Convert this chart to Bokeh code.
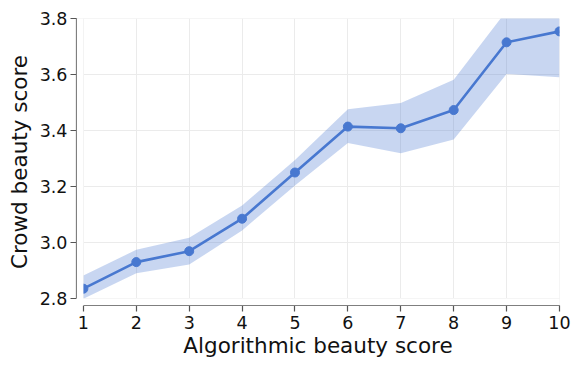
from bokeh.plotting import figure
from bokeh.models import Range1d, FixedTicker, BoxAnnotation, ColumnDataSource, PrintfTickFormatter
from bokeh.embed import file_html
from bokeh.resources import INLINE

x = [1, 2, 3, 4, 5, 6, 7, 8, 9, 10]
mean = [2.835, 2.930, 2.969, 3.085, 3.250, 3.414, 3.408, 3.473, 3.715, 3.754]
lower = [2.799, 2.890, 2.921, 3.043, 3.204, 3.355, 3.319, 3.368, 3.602, 3.590]
upper = [2.882, 2.974, 3.017, 3.132, 3.295, 3.476, 3.498, 3.581, 3.828, 3.920]
xticks = [1, 2, 3, 4, 5, 6, 7, 8, 9, 10]
yticks = [2.8, 3.0, 3.2, 3.4, 3.6, 3.8]

color = "#4878d0"
src = ColumnDataSource(dict(x=x, mean=mean, lower=lower, upper=upper))

W, H = 573, 362
padx = 7 / (483 / 9)
pady = 7 / (280 / 1.0)

p = figure(width=W, height=H, output_backend="svg", toolbar_location=None,
           x_range=Range1d(1 - padx, 10.0005), y_range=Range1d(2.8 - pady, 3.80005))
p.min_border_left = 76
p.min_border_right = W - 559
p.min_border_top = 18
p.min_border_bottom = H - 305
p.outline_line_color = None
p.background_fill_color = "white"

p.varea(x="x", y1="lower", y2="upper", source=src, fill_color=color, fill_alpha=0.3)
p.line(x="x", y="mean", source=src, line_color=color, line_width=2.6)
p.scatter(x="x", y="mean", source=src, size=9, fill_color=color, line_color=color)

# mask the offset strips so axes appear detached
p.add_layout(BoxAnnotation(right=1, fill_color="white", fill_alpha=1.0, line_alpha=0))
p.add_layout(BoxAnnotation(top=2.8, fill_color="white", fill_alpha=1.0, line_alpha=0))
p.add_layout(BoxAnnotation(left=10, fill_color="white", fill_alpha=1.0, line_alpha=0))

p.xaxis.ticker = FixedTicker(ticks=xticks)
p.yaxis.ticker = FixedTicker(ticks=yticks)
p.yaxis.formatter = PrintfTickFormatter(format="%.1f")
p.xaxis.bounds = (1, 10)
p.yaxis.bounds = (2.8, 3.8)
p.xgrid.ticker = FixedTicker(ticks=xticks)
p.ygrid.ticker = FixedTicker(ticks=yticks)
p.grid.grid_line_color = "#ebebeb"
p.grid.grid_line_width = 1

for ax in (p.xaxis, p.yaxis):
    ax.axis_line_color = "#555555"
    ax.axis_line_width = 1.2
    ax.major_tick_line_color = "#555555"
    ax.major_tick_line_width = 1.2
    ax.major_tick_out = 6
    ax.major_tick_in = 0
    ax.minor_tick_line_color = None
    ax.major_label_text_font = "DejaVu Sans"
    ax.major_label_text_font_size = "17.5px"
    ax.major_label_text_color = "#111111"
    ax.axis_label_text_font = "DejaVu Sans"
    ax.axis_label_text_font_size = "21.5px"
    ax.axis_label_text_font_style = "normal"
    ax.axis_label_text_color = "#111111"

p.xaxis.axis_label = "Algorithmic beauty score"
p.yaxis.axis_label = "Crowd beauty score"
p.xaxis.major_label_standoff = 4
p.yaxis.major_label_standoff = 3
p.xaxis.axis_label_standoff = 1
p.yaxis.axis_label_standoff = 5

open("out.html", "w").write(file_html(p, INLINE))
